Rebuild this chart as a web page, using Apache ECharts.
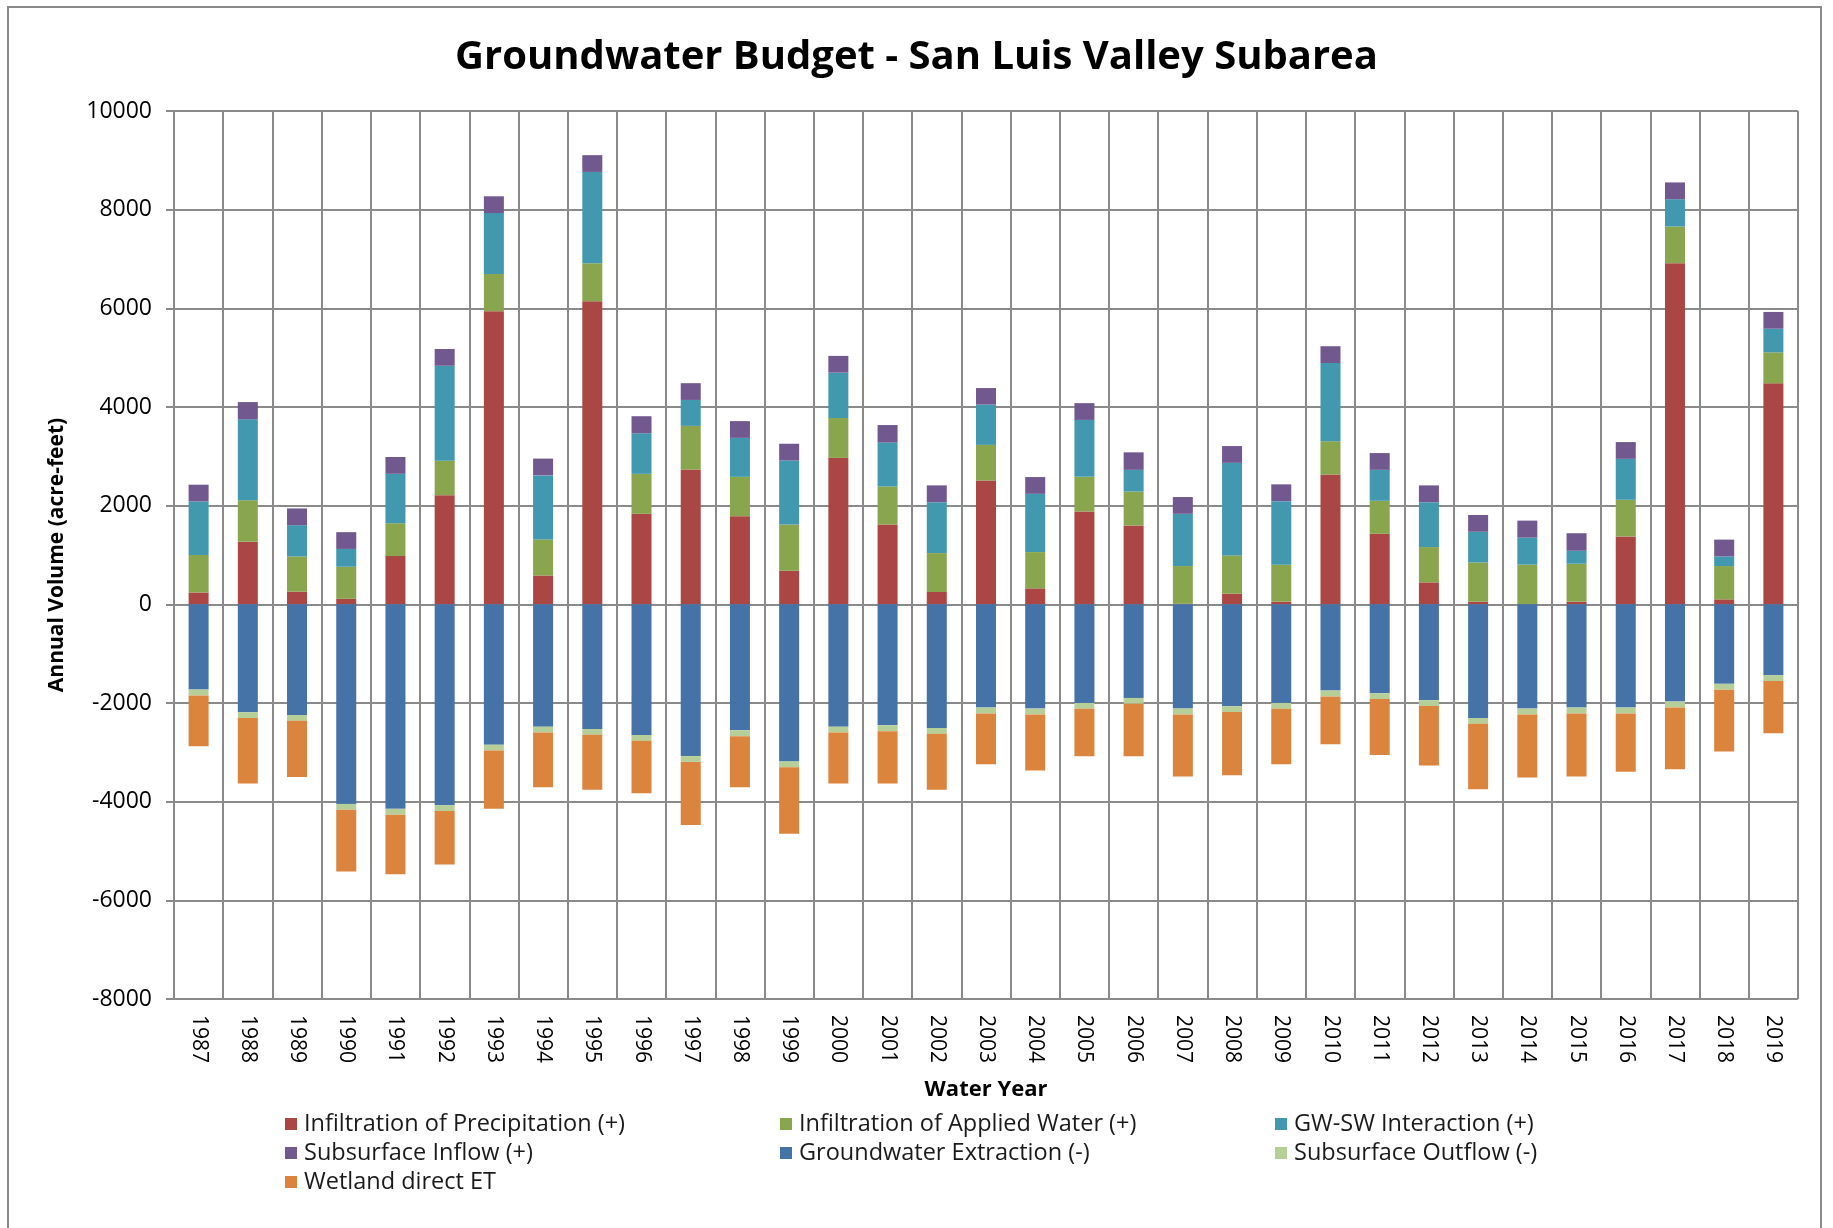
<!DOCTYPE html>
<html>
<head>
<meta charset="utf-8">
<script src="https://cdn.jsdelivr.net/npm/echarts@6/dist/echarts.min.js"></script>
<style>
html,body{margin:0;padding:0;background:#fff;}
#chart{width:1833px;height:1228px;}
</style>
</head>
<body>
<div id="chart"></div>
<script>
const years = ['1987','1988','1989','1990','1991','1992','1993','1994','1995','1996','1997','1998','1999','2000','2001','2002','2003','2004','2005','2006','2007','2008','2009','2010','2011','2012','2013','2014','2015','2016','2017','2018','2019'];
const precipitation = [240,1270,257,112,978,2213,5942,585,6143,1835,2733,1788,681,2969,1619,250,2510,324,1883,1600,10,216,54,2632,1430,445,54,5,54,1377,6916,101,4480];
const appliedWater = [760,840,713,650,666,698,754,730,770,810,884,796,938,810,770,789,722,735,701,687,766,776,749,674,669,716,796,800,769,742,743,675,628];
const gwswInteraction = [1085,1640,634,361,1002,1925,1235,1299,1852,823,526,790,1296,917,890,1032,817,1181,1154,439,1059,1876,1289,1586,627,910,621,547,263,830,553,196,479];
const subsurfaceInflow = [340,350,340,340,340,340,340,340,340,345,340,340,340,340,355,340,335,340,340,355,340,340,340,340,340,340,340,345,355,340,340,340,340];
const gwExtraction = [-1728,-2188,-2243,-4045,-4146,-4072,-2846,-2480,-2527,-2649,-3076,-2554,-3184,-2480,-2453,-2507,-2093,-2114,-1999,-1897,-2114,-2066,-1999,-1748,-1802,-1944,-2304,-2114,-2093,-2093,-1972,-1612,-1436];
const subsurfaceOutflow = [-118,-118,-118,-118,-118,-118,-118,-118,-118,-118,-118,-118,-118,-118,-118,-118,-118,-118,-118,-118,-118,-118,-118,-118,-118,-118,-118,-118,-118,-118,-118,-118,-118];
const wetlandET = [-1029,-1328,-1138,-1253,-1206,-1084,-1179,-1111,-1111,-1064,-1280,-1037,-1349,-1036,-1063,-1131,-1029,-1138,-962,-1064,-1260,-1280,-1124,-969,-1132,-1206,-1328,-1280,-1280,-1185,-1253,-1253,-1057];
const yTicks = {min: -8000, max: 10000, interval: 2000};

const seriesDefs = [
  {name: 'Infiltration of Precipitation (+)', data: precipitation, color: '#AA4643'},
  {name: 'Infiltration of Applied Water (+)', data: appliedWater, color: '#89A54E'},
  {name: 'GW-SW Interaction (+)', data: gwswInteraction, color: '#4198AF'},
  {name: 'Subsurface Inflow (+)', data: subsurfaceInflow, color: '#71588F'},
  {name: 'Groundwater Extraction (-)', data: gwExtraction, color: '#4572A7'},
  {name: 'Subsurface Outflow (-)', data: subsurfaceOutflow, color: '#B6CF98'},
  {name: 'Wetland direct ET', data: wetlandET, color: '#DB843D'}
];

const FONT = '"Open Sans", sans-serif';
const GRAY = '#8a8a8a';
const chart = echarts.init(document.getElementById('chart'));

function legendCol(left, names) {
  return {
    orient: 'vertical', left: left, top: 1107,
    itemWidth: 12, itemHeight: 12, itemGap: 5, icon: 'rect',
    data: names,
    textStyle: {fontFamily: FONT, fontSize: 23.5, color: '#1a1a1a', lineHeight: 24, padding: [0,0,0,2]},
    selectedMode: false
  };
}

chart.setOption({
  animation: false,
  backgroundColor: '#fff',
  title: {
    text: 'Groundwater Budget - San Luis Valley Subarea',
    left: 'center', top: 33,
    textStyle: {fontFamily: FONT, fontSize: 40, fontWeight: 'bold', color: '#000'}
  },
  graphic: [{
    type: 'rect', silent: true, z: -1,
    shape: {x: 8, y: 7, width: 1813, height: 1240},
    style: {fill: 'none', stroke: GRAY, lineWidth: 2}
  }],
  legend: [
    legendCol(280, [seriesDefs[0].name, seriesDefs[3].name, seriesDefs[6].name]),
    legendCol(775, [seriesDefs[1].name, seriesDefs[4].name]),
    legendCol(1270, [seriesDefs[2].name, seriesDefs[5].name])
  ],
  grid: {left: 174, right: 35, top: 111, bottom: 229},
  xAxis: {
    type: 'category', data: years, boundaryGap: true,
    name: 'Water Year', nameLocation: 'middle', nameGap: 80,
    nameTextStyle: {fontFamily: FONT, fontSize: 22, fontWeight: 'bold', color: '#000'},
    axisLine: {lineStyle: {color: GRAY, width: 2}},
    axisTick: {show: false},
    splitLine: {show: true, interval: 0, lineStyle: {color: GRAY, width: 2}},
    axisLabel: {rotate: -90, interval: 0, margin: 16, fontFamily: FONT, fontSize: 21, color: '#000'}
  },
  yAxis: {
    type: 'value', min: yTicks.min, max: yTicks.max, interval: yTicks.interval,
    name: 'Annual Volume (acre-feet)', nameLocation: 'middle', nameGap: 106,
    nameTextStyle: {fontFamily: FONT, fontSize: 21, fontWeight: 'bold', color: '#000'},
    axisLine: {show: true, lineStyle: {color: GRAY, width: 2}},
    axisTick: {show: true, length: 8, lineStyle: {color: GRAY, width: 2}},
    splitLine: {show: true, lineStyle: {color: GRAY, width: 2}},
    axisLabel: {margin: 22, fontFamily: FONT, fontSize: 23, color: '#000', formatter: v => String(v)}
  },
  series: seriesDefs.map(s => ({
    name: s.name, type: 'bar', stack: 'budget', data: s.data,
    barWidth: 20,
    itemStyle: {color: s.color},
    emphasis: {disabled: true}
  }))
});
</script>
</body>
</html>
